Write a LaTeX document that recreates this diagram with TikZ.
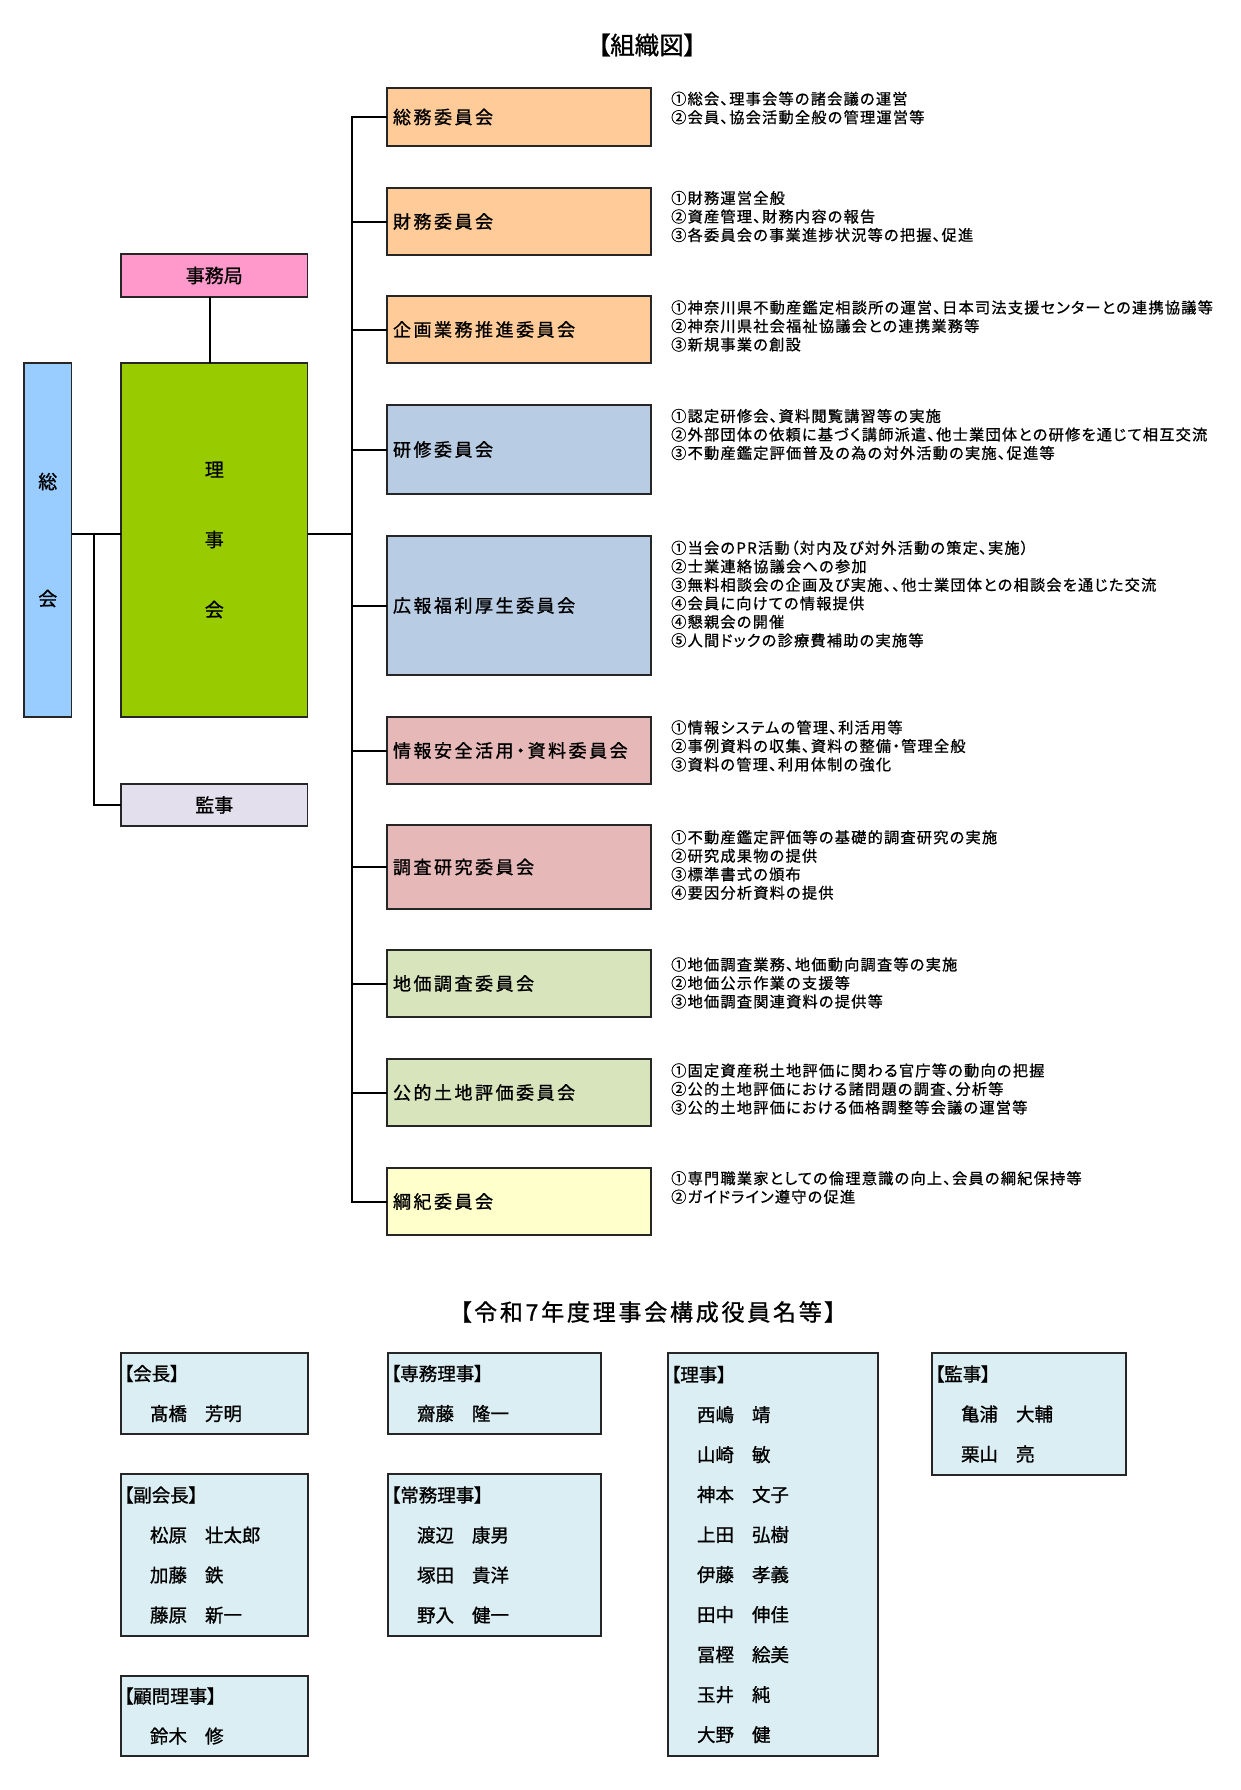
\documentclass[tikz,border=0pt]{standalone}
\usepackage{fontspec}
\newfontfamily\jp{Noto Sans CJK JP}[RawFeature=+palt,FakeBold=1]
\newfontfamily\jpd{Noto Sans CJK JP}[RawFeature=+palt,LetterSpace=8,FakeBold=0.8]
\newfontfamily\jpls{Noto Sans CJK JP}[RawFeature=+palt,LetterSpace=14,FakeBold=1]
\newfontfamily\jptl{Noto Sans CJK JP}[RawFeature=+palt,LetterSpace=12,FakeBold=1]
\definecolor{peach}{HTML}{FFCC99}
\definecolor{steel}{HTML}{B8CCE4}
\definecolor{rosec}{HTML}{E6B9B8}
\definecolor{sage}{HTML}{D8E4BC}
\definecolor{cream}{HTML}{FFFFCC}
\definecolor{pinkb}{HTML}{FF99CC}
\definecolor{limeg}{HTML}{99CC00}
\definecolor{skyb}{HTML}{99CCFF}
\definecolor{lav}{HTML}{E4DFEC}
\definecolor{rosfill}{HTML}{DAEEF3}
\newcommand\rname[2]{\hspace*{26pt}\makebox[55pt][l]{#1}#2}
\tikzset{
  bx/.style={draw=black!85, line width=1.6pt, inner sep=0pt, outer sep=0pt},
  cbox/.style={bx, minimum width=264pt, text width=252pt, inner xsep=6pt, align=left,
    font=\jpls\fontsize{18pt}{22pt}\selectfont},
  desctext/.style={anchor=west, inner sep=0pt, align=left,
    font=\jpd\fontsize{15.2pt}{18.5pt}\selectfont},
  lbox/.style={bx, minimum width=186.6pt, align=center, font=\jp\fontsize{19pt}{22pt}\selectfont},
  conn/.style={line width=2pt, black},
  ros/.style={bx, fill=rosfill, inner xsep=3pt, align=left,
    font=\jp\fontsize{18.5pt}{40pt}\selectfont},
  ttl/.style={inner sep=0pt},
}
\begin{document}
\begin{tikzpicture}[x=1pt,y=-1pt]
\useasboundingbox (0,0) rectangle (1240,1790);
\fill[white] (0,0) rectangle (1240,1790);

% titles
\node[ttl, font=\jp\fontsize{24.5pt}{26pt}\selectfont] (t1) at (647,45) {【組織図】};
\node[ttl, font=\jptl\fontsize{23pt}{26pt}\selectfont] (t2) at (648,1312) {【令和7年度理事会構成役員名等】};

% committees
\node[cbox, fill=peach, minimum height=58pt] (c1) at (519,117) {総務委員会};
\node[cbox, fill=peach, minimum height=67pt] (c2) at (519,221.5) {財務委員会};
\node[cbox, fill=peach, minimum height=67pt] (c3) at (519,329.5) {企画業務推進委員会};
\node[cbox, fill=steel, minimum height=89pt] (c4) at (519,449.5) {研修委員会};
\node[cbox, fill=steel, minimum height=139pt] (c5) at (519,605.5) {広報福利厚生委員会};
\node[cbox, fill=rosec, minimum height=67pt] (c6) at (519,750.5) {情報安全活用・資料委員会};
\node[cbox, fill=rosec, minimum height=84pt] (c7) at (519,867) {調査研究委員会};
\node[cbox, fill=sage, minimum height=67pt] (c8) at (519,983.5) {地価調査委員会};
\node[cbox, fill=sage, minimum height=67pt] (c9) at (519,1092.5) {公的土地評価委員会};
\node[cbox, fill=cream, minimum height=67pt] (c10) at (519,1201.5) {綱紀委員会};

% descriptions
\node[desctext] (d1) at (671,108) {①総会、理事会等の諸会議の運営\\②会員、協会活動全般の管理運営等};
\node[desctext] (d2) at (671,216.5) {①財務運営全般\\②資産管理、財務内容の報告\\③各委員会の事業進捗状況等の把握、促進};
\node[desctext] (d3) at (671,326) {①神奈川県不動産鑑定相談所の運営、日本司法支援センターとの連携協議等\\②神奈川県社会福祉協議会との連携業務等\\③新規事業の創設};
\node[desctext] (d4) at (671,434.5) {①認定研修会、資料閲覧講習等の実施\\②外部団体の依頼に基づく講師派遣、他士業団体との研修を通じて相互交流\\③不動産鑑定評価普及の為の対外活動の実施、促進等};
\node[desctext] (d5) at (671,594) {①当会のPR活動（対内及び対外活動の策定、実施）\\②士業連絡協議会への参加\\③無料相談会の企画及び実施、、他士業団体との相談会を通じた交流\\④会員に向けての情報提供\\④懇親会の開催\\⑤人間ドックの診療費補助の実施等};
\node[desctext] (d6) at (671,746) {①情報システムの管理、利活用等\\②事例資料の収集、資料の整備・管理全般\\③資料の管理、利用体制の強化};
\node[desctext] (d7) at (671,865) {①不動産鑑定評価等の基礎的調査研究の実施\\②研究成果物の提供\\③標準書式の頒布\\④要因分析資料の提供};
\node[desctext] (d8) at (671,983) {①地価調査業務、地価動向調査等の実施\\②地価公示作業の支援等\\③地価調査関連資料の提供等};
\node[desctext] (d9) at (671,1089) {①固定資産税土地評価に関わる官庁等の動向の把握\\②公的土地評価における諸問題の調査、分析等\\③公的土地評価における価格調整等会議の運営等};
\node[desctext] (d10) at (671,1187.5) {①専門職業家としての倫理意識の向上、会員の綱紀保持等\\②ガイドライン遵守の促進};

% left side
\node[bx, fill=skyb, minimum width=47.5pt, minimum height=354pt, align=center,
  font=\jp\fontsize{19pt}{117pt}\selectfont] (sokai) at (47.75,540) {総\\会};
\node[bx, fill=limeg, minimum width=186.6pt, minimum height=354pt, align=center,
  font=\jp\fontsize{19pt}{70pt}\selectfont] (rijikai) at (214.3,540) {理\\事\\会};
\node[lbox, fill=pinkb, minimum height=43pt] (jimu) at (214.3,275.5) {事務局};
\node[lbox, fill=lav, minimum height=42pt] (kanji) at (214.3,805) {監事};

% connectors
\coordinate (busT) at (352,117);
\draw[conn] (c1.west) -| (c10.west -| busT) -- (c10.west);
\foreach \n in {c2,c3,c4,c5,c6,c7,c8,c9}
  \draw[conn] (\n.west) -- (\n.west -| busT);
\draw[conn] ([yshift=6pt]rijikai.east) -- ([yshift=6pt]rijikai.east -| busT);
\draw[conn] ([yshift=6pt]sokai.east) -- ([yshift=6pt]rijikai.west);
\draw[conn] ([xshift=-4pt]jimu.south) -- ([xshift=-4pt]rijikai.north);
\coordinate (kbr) at (94,534);
\draw[conn] (kbr) |- (kanji.west);

% roster
\node[ros, minimum width=187pt, text width=181pt, minimum height=81pt] (r1) at (214.5,1393.5)
  {【会長】\\\rname{髙橋}{芳明}};
\node[ros, minimum width=187pt, text width=181pt, minimum height=162pt] (r2) at (214.5,1555)
  {【副会長】\\\rname{松原}{壮太郎}\\\rname{加藤}{鉄}\\\rname{藤原}{新一}};
\node[ros, minimum width=187pt, text width=181pt, minimum height=80pt] (r3) at (214.5,1716)
  {【顧問理事】\\\rname{鈴木}{修}};
\node[ros, minimum width=213pt, text width=207pt, minimum height=81pt] (r4) at (494.5,1393.5)
  {【専務理事】\\\rname{齋藤}{隆一}};
\node[ros, minimum width=213pt, text width=207pt, minimum height=162pt] (r5) at (494.5,1555)
  {【常務理事】\\\rname{渡辺}{康男}\\\rname{塚田}{貴洋}\\\rname{野入}{健一}};
\node[ros, minimum width=210pt, text width=204pt, minimum height=403pt] (r6) at (773,1554.5)
  {【理事】\\\rname{西嶋}{靖}\\\rname{山崎}{敏}\\\rname{神本}{文子}\\\rname{上田}{弘樹}\\\rname{伊藤}{孝義}\\\rname{田中}{伸佳}\\\rname{冨樫}{絵美}\\\rname{玉井}{純}\\\rname{大野}{健}};
\node[ros, minimum width=194pt, text width=188pt, minimum height=122pt] (r7) at (1029,1414)
  {【監事】\\\rname{亀浦}{大輔}\\\rname{栗山}{亮}};
\end{tikzpicture}
\end{document}
